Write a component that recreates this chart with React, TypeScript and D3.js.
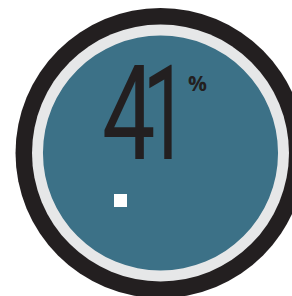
import React, {useEffect, useRef} from 'react';
import * as d3 from 'd3';

// the single value shown in the badge
const values = [41];
const units = ["%"];
// ring layers, outside in
const rings = ["outer", "track", "face"];
const ringRadius = [145, 128.5, 117.5];
const ringColors = ["#231f20", "#e6e7e8", "#3c7187"];

const width = 292;
const height = 296;

const App: React.FC = () => {
  const ref = useRef<SVGSVGElement>(null);

  useEffect(() => {
    const svg = d3.select(ref.current!);
    svg.selectAll("*").remove();

    const cx = 160.5, cy = 153;
    const g = svg.append("g").attr("transform", `translate(${cx},${cy})`);

    // concentric rings drawn as full arcs
    const arc = d3.arc<number>()
      .innerRadius(0)
      .outerRadius(d => ringRadius[d])
      .startAngle(0)
      .endAngle(2 * Math.PI);

    g.selectAll("path.ring")
      .data(rings.map((_, i) => i))
      .join("path")
      .attr("class", "ring")
      .attr("d", d => arc(d)!)
      .attr("fill", d => ringColors[d]);

    // big number, one glyph at a time so each can be squeezed like the original face
    const digits = d3.format("d")(values[0]).split("");
    const digitX = [102, 142.5];
    const digitScale = [0.72, 0.62];
    svg.selectAll("text.digit")
      .data(digits)
      .join("text")
      .attr("class", "digit")
      .attr("transform", (_, i) => `translate(${digitX[i]},159) scale(${digitScale[i]},1)`)
      .attr("fill", "#231f20")
      .attr("font-family", "Roboto, 'Noto Sans', sans-serif")
      .attr("font-weight", 400)
      .attr("font-size", 132)
      .attr("letter-spacing", -22)
      .text(d => d);

    // unit sign
    svg.append("text")
      .attr("x", 188)
      .attr("y", 91)
      .attr("fill", "#231f20")
      .attr("font-family", "'Open Sans', sans-serif")
      .attr("font-weight", 700)
      .attr("font-size", 21)
      .text(units[0]);

    // small legend marker
    svg.append("rect")
      .attr("x", 114)
      .attr("y", 194)
      .attr("width", 13)
      .attr("height", 13)
      .attr("fill", "#ffffff");
  }, []);

  return (
    <svg ref={ref} width={width} height={height}
         style={{position: "absolute", left: 0, top: 0, background: "#ffffff"}}/>
  );
};

export default App;
